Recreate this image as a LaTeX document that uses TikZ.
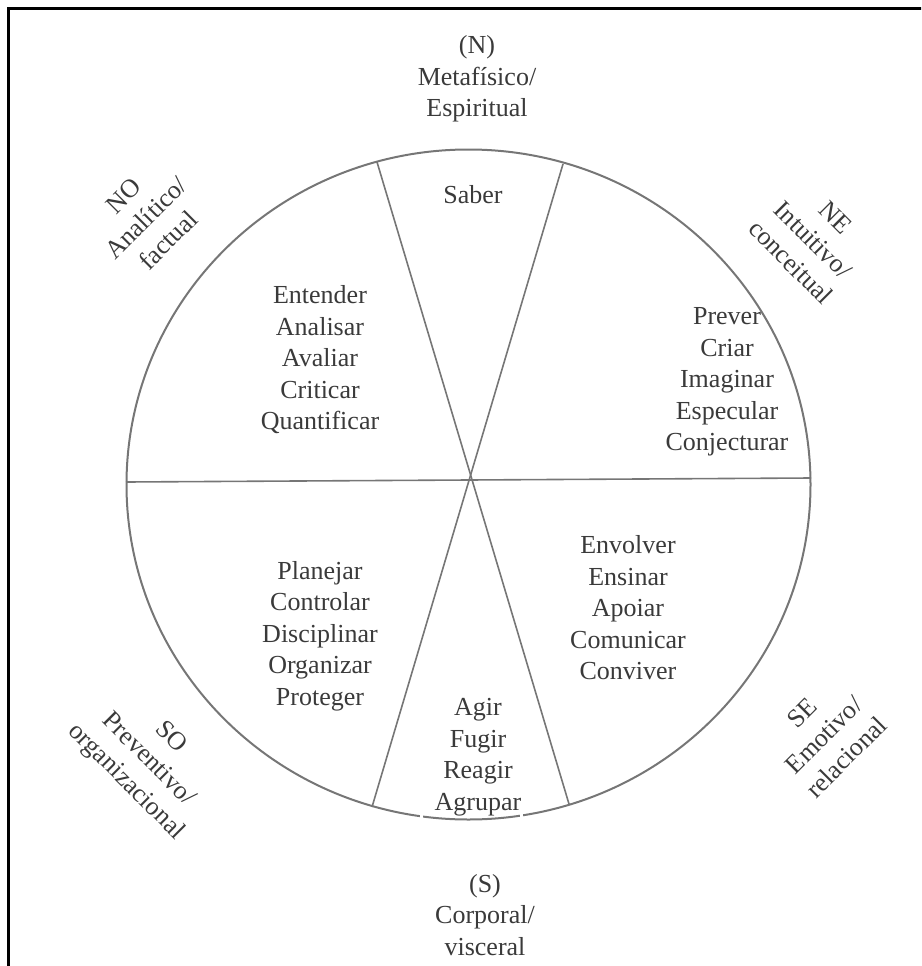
\documentclass[tikz,border=0pt]{standalone}
\usepackage{fontspec}
\setmainfont{Liberation Serif}
\usepackage{xcolor}
\definecolor{rimgray}{HTML}{767676}
\definecolor{inkgray}{HTML}{3a3a3a}

\begin{document}
\begin{tikzpicture}[x=1pt, y=-1pt,
    wheeltext/.style = {align=center, text=inkgray, font=\fontsize{26}{31.5}\selectfont},
    spoke/.style = {rimgray, line width=1.6pt}]
    \useasboundingbox (0,0) rectangle (921,966);
    \clip (0,0) rectangle (921,966);
    % frame
    \draw[black, line width=3pt] (8,1000) -- (8,9) -- (1000,9);
    % wheel
    \draw[rimgray, line width=2pt] (468.5,484.5) ellipse [x radius=342, y radius=335];
    \fill[white] (419.5,812) rectangle (422.5,824);
    \fill[white] (520,812) rectangle (523,824);
    % spokes
    \coordinate (west) at (126,482);
    \coordinate (east) at (811,478);
    \coordinate (nnw) at (377,162);
    \coordinate (sse) at (569,804);
    \coordinate (nne) at (563,164);
    \coordinate (ssw) at (372,807);
    \draw[spoke] (west) -- (east);
    \draw[spoke] (nnw) -- (sse);
    \draw[spoke] (nne) -- (ssw);
    % sectors
    \node[wheeltext] (saber) at (473,195) {Saber};
    \node[wheeltext] (analitico) at (320,360) {Entender\\Analisar\\Avaliar\\Criticar\\Quantificar};
    \node[wheeltext] (intuitivo) at (727,382) {Prever\\Criar\\Imaginar\\Especular\\Conjecturar};
    \node[wheeltext] (preventivo) at (320,636) {Planejar\\Controlar\\Disciplinar\\Organizar\\Proteger};
    \node[wheeltext] (emotivo) at (628,608) {Envolver\\Ensinar\\Apoiar\\Comunicar\\Conviver};
    \node[wheeltext] (corporal) at (478,757) {Agir\\Fugir\\Reagir\\Agrupar};
    % directions
    \node[wheeltext] (north) at (477,79) {(N)\\Metafísico/\\Espiritual};
    \node[wheeltext] (south) at (485,915) {(S)\\Corporal/\\visceral};
    \node[wheeltext, rotate=45] (northwest) at (146,218) {NO\\Analítico/\\factual};
    \node[wheeltext, rotate=-45] (northeast) at (813,240) {NE\\Intuitivo/\\conceitual};
    \node[wheeltext, rotate=-45] (southwest) at (148,760) {SO\\Preventivo/\\organizacional};
    \node[wheeltext, rotate=45] (southeast) at (824,735) {SE\\Emotivo/\\relacional};
\end{tikzpicture}
\end{document}
